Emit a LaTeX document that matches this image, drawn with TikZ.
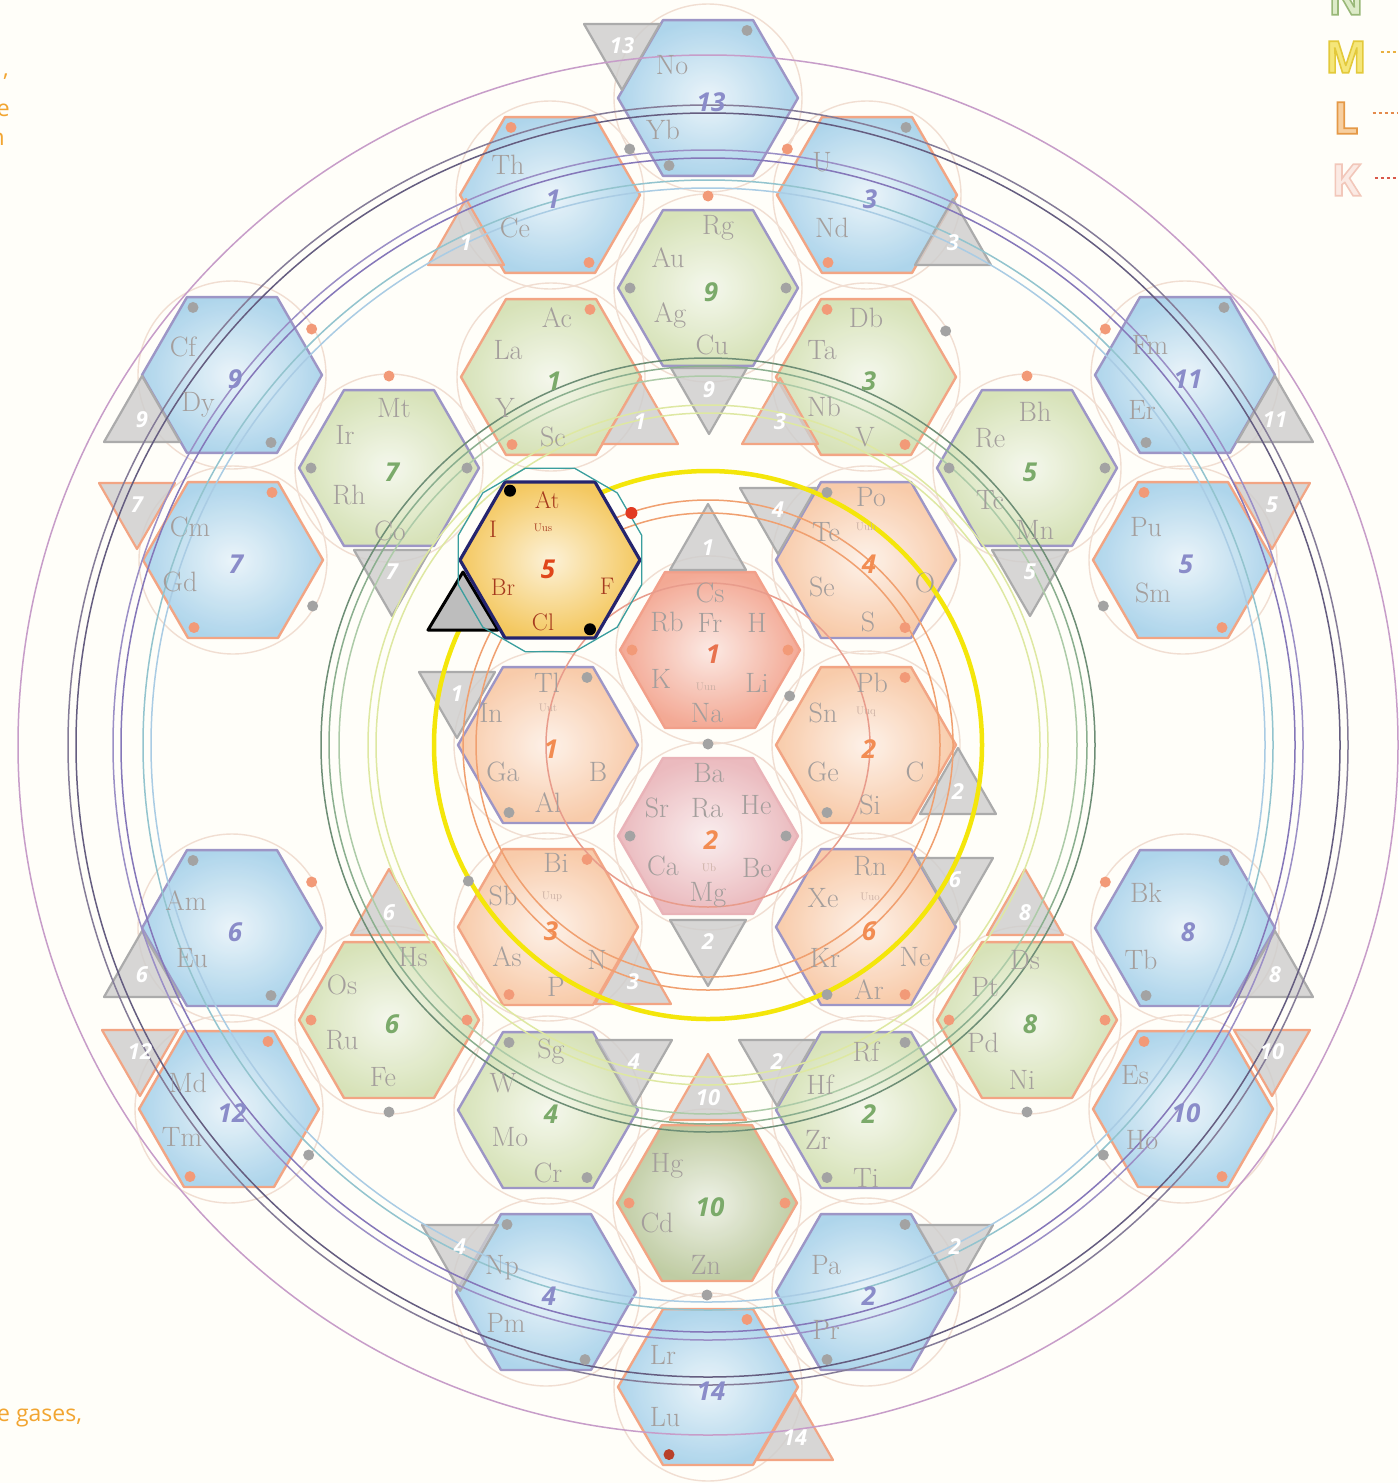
\documentclass[tikz,border=0pt]{standalone}
\usepackage{fontspec}
\newfontfamily\numfont{Open Sans}
\usetikzlibrary{calc}
\definecolor{bgcream}{HTML}{FFFEF9}
\definecolor{fblue}{HTML}{A6D1EA}
\definecolor{dgreen}{HTML}{D3E0B2}
\definecolor{dolive}{HTML}{B9C79A}
\definecolor{ppeach}{HTML}{F8C6A2}
\definecolor{sred}{HTML}{F2A08A}
\definecolor{spink}{HTML}{E9B3B8}
\definecolor{hgold}{HTML}{F4C860}
\definecolor{edgeor}{HTML}{F2A584}
\definecolor{edgepu}{HTML}{9D96C6}
\definecolor{navy}{HTML}{25246E}
\definecolor{trigrey}{HTML}{CDCDCD}
\definecolor{trigreyd}{HTML}{ABABAB}
\definecolor{trihl}{HTML}{BDBDBD}
\definecolor{numblue}{HTML}{8A8CC9}
\definecolor{numgreen}{HTML}{7BAA6A}
\definecolor{numorange}{HTML}{F28C52}
\definecolor{numred}{HTML}{E8724E}
\definecolor{numhl}{HTML}{E0461A}
\definecolor{halored}{HTML}{A63A1E}
\definecolor{elgrey}{HTML}{A49E9C}
\definecolor{smallgrey}{HTML}{C9AEA2}
\definecolor{halobeige}{HTML}{F1DED2}
\definecolor{tealring}{HTML}{3A9E9E}
\definecolor{dotgrey}{HTML}{A3A3A3}
\definecolor{dotor}{HTML}{F29A78}
\definecolor{dotred}{HTML}{E23A22}
\definecolor{dotdark}{HTML}{B8402A}
\definecolor{txtor}{HTML}{F2A531}
\definecolor{legNi}{HTML}{DDEBC8}
\definecolor{legMi}{HTML}{F5E67A}
\definecolor{legLi}{HTML}{F7CFA0}
\definecolor{legKi}{HTML}{FBEAE4}
\definecolor{legMd}{HTML}{E9B040}
\definecolor{legLd}{HTML}{E48A4C}
\definecolor{legKd}{HTML}{D9584A}
\definecolor{shK}{HTML}{E89C8C}
\definecolor{shL}{HTML}{F0A070}
\definecolor{shM}{HTML}{F4E60A}
\definecolor{shMl}{HTML}{DEE8A2}
\definecolor{shNa}{HTML}{6E8E76}
\definecolor{shNb}{HTML}{8BAF8F}
\definecolor{shNc}{HTML}{ADCBA8}
\definecolor{shOa}{HTML}{AACCE4}
\definecolor{shOb}{HTML}{93C4CE}
\definecolor{shPa}{HTML}{8577B9}
\definecolor{shPb}{HTML}{9B8FC6}
\definecolor{shQa}{HTML}{655D80}
\definecolor{shQb}{HTML}{857C98}
\definecolor{shR}{HTML}{C79DC9}
% hollow legend letters: fill and stroke the glyph, stroke colour given as r g b
\newcommand\hollow[2]{\special{pdf:literal direct #1 RG 2 Tr 1.6 w}#2\special{pdf:literal direct 0 Tr}}
\pgfdeclarelayer{bg}
\pgfdeclarelayer{fg}
\pgfsetlayers{bg,main,fg}
\tikzset{
  hexcell/.style={line width=2.4pt, line join=round, fill opacity=.9},
  halo/.style={draw=halobeige, line width=1.4pt},
  shell/.style={line width=1.5pt},
  tri/.style={fill=trigrey, fill opacity=.8, line width=2.2pt, line join=round},
  trinum/.style={text=white, font=\numfont\bfseries\itshape\fontsize{22}{24}\selectfont, inner sep=0pt},
  elem/.style={text=elgrey, font=\fontsize{28}{30}\selectfont, inner sep=0pt},
  elsmall/.style={text=smallgrey, font=\fontsize{11}{12}\selectfont, inner sep=0pt},
  cellnum/.style={font=\numfont\bfseries\itshape\fontsize{26}{28}\selectfont, inner sep=0pt},
  halel/.style={text=halored, font=\fontsize{24}{26}\selectfont, inner sep=0pt},
  legletter/.style={font=\numfont\bfseries\fontsize{44}{46}\selectfont, inner sep=0pt},
  legdots/.style={line width=2pt, dash pattern=on 3pt off 3pt},
  sidetext/.style={text=txtor, font=\numfont\fontsize{23}{25}\selectfont, inner sep=0pt},
}

\begin{document}
\begin{tikzpicture}[x=1pt, y=-1pt]
  \useasboundingbox (0,0) rectangle (1398,1483);
  \begin{pgfonlayer}{bg}
    \fill[bgcream] (0,0) rectangle (1398,1483);
  \end{pgfonlayer}
  \coordinate (ctr) at (708,745);

  % cells: name/x/y/fill/edge/number colour/number
  \foreach \nm/\x/\y/\fc/\bd/\nc/\nr in {
      f13/708/98/fblue/edgepu/numblue/13, f1/550/195/fblue/edgeor/numblue/1, f3/867/195/fblue/edgeor/numblue/3,
      f9/232/375/fblue/edgepu/numblue/9, f11/1185/375/fblue/edgepu/numblue/11,
      f7/233/560/fblue/edgeor/numblue/7, f5/1183/560/fblue/edgeor/numblue/5,
      f6/232/928/fblue/edgepu/numblue/6, f8/1185/928/fblue/edgepu/numblue/8,
      f12/229/1109/fblue/edgeor/numblue/12, f10/1183/1109/fblue/edgeor/numblue/10,
      f4/546/1292/fblue/edgepu/numblue/4, f2/866/1292/fblue/edgepu/numblue/2, f14/708/1387/fblue/edgeor/numblue/14,
      d9/708/288/dgreen/edgepu/numgreen/9, d1/551/377/dgreen/edgeor/numgreen/1, d3/866/377/dgreen/edgeor/numgreen/3,
      d7/389/468/dgreen/edgepu/numgreen/7, d5/1027/468/dgreen/edgepu/numgreen/5,
      d6/389/1020/dgreen/edgeor/numgreen/6, d8/1027/1020/dgreen/edgeor/numgreen/8,
      d4/548/1110/dgreen/edgepu/numgreen/4, d2/866/1110/dgreen/edgepu/numgreen/2, d10/707/1203/dolive/edgeor/numgreen/10,
      p1/548/745/ppeach/edgepu/numorange/1, p2/866/745/ppeach/edgeor/numorange/2, p3/548/927/ppeach/edgeor/numorange/3,
      p4/866/560/ppeach/edgepu/numorange/4, p6/866/927/ppeach/edgepu/numorange/6,
      s1/710/650/sred/sred/numred/1, s2/708/836/spink/spink/numorange/2} {
    \coordinate (\nm) at (\x,\y);
    \begin{pgfonlayer}{bg}
      \draw[halo] (\nm) circle (94pt);
    \end{pgfonlayer}
    \draw[hexcell, draw=\bd, inner color=\fc!25!white, outer color=\fc]
      (\x,\y) ++(90,0) -- ++(120:90) -- ++(180:90) -- ++(240:90) -- ++(300:90) -- ++(0:90) -- cycle;
    \begin{pgfonlayer}{fg}
      \node[cellnum, text=\nc] (\nm-n) at (\x+3,\y+4) {\nr};
    \end{pgfonlayer}
  }

  % triangles: name/x/y/apex/base/label/edge
  \foreach \tn/\x/\y/\ay/\by/\lab/\bd in {
      ti1/708/548/-44/22/1/trigreyd, ti2/708/942/44/-22/2/trigreyd, ti1b/457/694/44/-22/1/trigreyd,
      ti2b/958/792/-44/22/2/trigreyd, ti3/633/982/-44/22/3/edgeor, ti4/778/510/44/-22/4/trigreyd,
      ti6/955/880/44/-22/6/trigreyd,
      tm9/709/390/44/-22/9/trigreyd, tm1/640/422/-44/22/1/edgeor, tm3/780/422/-44/22/3/edgeor,
      tm7/392/572/44/-22/7/trigreyd, tm5/1030/572/44/-22/5/trigreyd, tm6/389/913/-44/22/6/edgeor,
      tm8/1025/913/-44/22/8/edgeor, tm4/634/1062/44/-22/4/trigreyd, tm2/777/1062/44/-22/2/trigreyd,
      tm10/708/1098/-44/22/10/edgeor,
      to13/622/46/44/-22/13/trigreyd, to1/466/243/-44/22/1/edgeor, to3/953/243/-44/22/3/trigreyd,
      to9/142/420/-44/22/9/trigreyd, to11/1275/420/-44/22/11/trigreyd, to7/137/505/44/-22/7/edgeor,
      to5/1272/505/44/-22/5/edgeor, to6/142/975/-44/22/6/trigreyd, to8/1275/975/-44/22/8/trigreyd,
      to12/140/1052/44/-22/12/edgeor, to10/1272/1052/44/-22/10/edgeor, to4/460/1247/44/-22/4/trigreyd,
      to2/955/1247/44/-22/2/trigreyd, to14/795/1438/-44/22/14/edgeor} {
    \draw[tri, draw=\bd] (\x,\y) +(0,\ay) -- +(-38,\by) -- +(38,\by) -- cycle;
    \begin{pgfonlayer}{fg}
      \node[trinum] (\tn) at (\x,\y) {\lab};
    \end{pgfonlayer}
  }

  % shells
  \foreach \rad/\col/\w in {162/shK/1.5, 232/shL/1.5, 245/shL/1.5, 274/shM/4.5, 332/shMl/1.5, 340/shMl/1.5,
      369/shNc/1.5, 379/shNb/1.5, 387/shNa/1.5, 557/shOa/1.5, 565/shOb/1.5, 587/shPa/1.5, 595/shPb/1.5,
      632/shQa/1.5, 640/shQb/1.5, 690/shR/1.5}
    \draw[shell, draw=\col, line width=\w pt] (ctr) circle (\rad pt);

  \begin{pgfonlayer}{fg}
    % dots
    \foreach \nm/\a/\rr/\col in {
        f13/300/78/dotgrey, f13/120/78/dotgrey, f1/240/78/dotor, f1/60/78/dotor, f1/330/92/dotgrey,
        f3/120/78/dotor, f3/300/78/dotgrey, f3/210/92/dotor, d9/0/78/dotgrey, d9/180/78/dotgrey, d9/270/92/dotor,
        d1/300/78/dotor, d1/120/78/dotor, d3/240/78/dotor, d3/330/92/dotgrey, d3/60/78/dotor,
        d7/0/78/dotgrey, d7/180/78/dotgrey, d7/270/92/dotor, d5/0/78/dotgrey, d5/180/78/dotgrey, d5/270/92/dotor,
        f9/240/78/dotgrey, f9/60/78/dotgrey, f9/330/92/dotor, f11/300/78/dotgrey, f11/120/78/dotgrey, f11/210/92/dotor,
        f7/300/78/dotor, f7/120/78/dotor, f7/30/92/dotgrey, f5/240/78/dotor, f5/60/78/dotor, f5/150/92/dotgrey,
        s1/0/78/dotor, s1/180/78/dotor, s1/30/92/dotgrey, s2/0/78/dotgrey, s2/180/78/dotgrey, s2/270/92/dotgrey,
        p1/300/78/dotgrey, p1/120/78/dotgrey, p2/300/78/dotor, p2/120/78/dotgrey, p4/240/78/dotgrey, p4/60/78/dotor,
        p3/300/78/dotor, p3/120/78/dotor, p3/210/92/dotgrey, p6/120/78/dotgrey, p6/60/78/dotor,
        f6/240/78/dotgrey, f6/60/78/dotgrey, f6/330/92/dotor, f8/300/78/dotgrey, f8/120/78/dotgrey, f8/210/92/dotor,
        d6/180/78/dotor, d6/0/78/dotor, d6/90/92/dotgrey, d8/180/78/dotor, d8/0/78/dotor, d8/90/92/dotgrey,
        f12/300/78/dotor, f12/120/78/dotor, f12/30/92/dotgrey, f10/240/78/dotor, f10/60/78/dotor, f10/150/92/dotgrey,
        d4/240/78/dotgrey, d4/60/78/dotgrey, d2/300/78/dotgrey, d2/120/78/dotgrey,
        d10/0/78/dotor, d10/180/78/dotor, d10/90/92/dotgrey, f4/240/78/dotgrey, f4/60/78/dotgrey,
        f2/300/78/dotgrey, f2/120/78/dotgrey, f14/300/78/dotor, f14/120/78/dotdark}
      \fill[fill=\col] ($(\nm)+(\a:\rr)$) circle (5.5pt);

    % element symbols
    \foreach \el/\x/\y in {
        No/672/65, Yb/663/130, Th/508/165, Ce/515/228, U/822/162, Nd/832/228, Cf/183/347, Dy/198/405,
        Fm/1150/345, Er/1142/410, Cm/190/527, Gd/180/582, Pu/1146/527, Sm/1153/593, Am/186/901, Eu/192/958,
        Bk/1146/893, Tb/1141/960, Md/188/1083, Tm/182/1137, Es/1135/1075, Ho/1142/1140, Np/502/1268, Pm/506/1323,
        Pa/826/1265, Pr/826/1330, Lr/663/1355, Lu/665/1417,
        Rg/718/228, Au/668/258, Ag/670/315, Cu/712/345, Ac/557/318, La/508/350, Y/505/408, Sc/553/437,
        Db/866/318, Ta/822/350, Nb/824/407, V/865/437, Mt/394/408, Ir/345/435, Rh/349/495, Co/390/531,
        Bh/1035/412, Re/990/438, Tc/990/500, Mn/1035/530, Hs/413/957, Os/342/985, Ru/342/1040, Fe/383/1077,
        Ds/1025/960, Pt/985/987, Pd/983/1043, Ni/1022/1080, Sg/551/1052, W/503/1083, Mo/510/1137, Cr/548/1173,
        Rf/866/1052, Hf/820/1085, Zr/818/1140, Ti/866/1178, Hg/667/1166, Cd/657/1223, Zn/706/1265,
        Tl/547/683, In/491/713, Ga/503/772, B/598/772, Al/548/803, Pb/872/683, Sn/823/713, Ge/823/772,
        C/915/772, Si/870/805, Po/871/497, Te/826/532, Se/822/587, O/925/583, S/868/622,
        Bi/556/863, Sb/503/896, As/507/957, N/597/960, P/556/987, Rn/870/866, Xe/823/898, Kr/825/958,
        Ne/915/957, Ar/869/990,
        Cs/710/593, Rb/667/622, Fr/710/623, H/757/623, K/661/679, Li/757/683, Na/707/713,
        Ba/709/773, Sr/657/808, Ra/707/808, He/756/805, Ca/663/866, Be/757/868, Mg/708/895}
      \node[elem] (\el) at (\x,\y) {\el};
    \foreach \el/\x/\y in {Uun/706/687, Ub/709/868, Uut/548/708, Uuq/866/712, Uuh/866/527, Uup/552/897, Uuo/870/897}
      \node[elsmall] (\el) at (\x,\y) {\el};

    % halogen cell, picked out
    \coordinate (p5) at (550,560);
    \draw[line width=3pt, line join=round, draw=black, fill=trihl] (463,572) -- (428,630) -- (498,630) -- cycle;
    \draw[line width=3.2pt, line join=round, draw=navy, inner color=hgold!25!white, outer color=hgold]
      (p5) ++(90,0) -- ++(120:90) -- ++(180:90) -- ++(240:90) -- ++(300:90) -- ++(0:90) -- cycle;
    \draw[tealring, line width=1.3pt] ($(p5)+(15:95)$)
      \foreach \k in {45,75,...,345} { -- ($(p5)+(\k:95)$) } -- cycle;
    \fill[black] ($(p5)+(240:80)$) circle (6pt);
    \fill[black] ($(p5)+(60:80)$) circle (6pt);
    \fill[dotred] ($(p5)+(330:94)$) circle (6pt);
    \foreach \el/\x/\y in {At/547/500, I/493/529, Br/503/587, F/607/586, Cl/543/622}
      \node[halel] (\el) at (\x,\y) {\el};
    \node[elsmall, text=halored] (Uus) at (543,528) {Uus};
    \node[cellnum, text=numhl] (p5-n) at (548,569) {5};

    % legend
    \node[legletter, text=legNi] (legN) at (1346,-1) {\hollow{0.60 0.72 0.47}{N}};
    \node[legletter, text=legMi] (legM) at (1346,57) {\hollow{0.89 0.79 0.23}{M}};
    \node[legletter, text=legLi] (legL) at (1346,118) {\hollow{0.90 0.60 0.28}{L}};
    \node[legletter, text=legKi] (legK) at (1346,180) {\hollow{0.95 0.78 0.73}{K}};
    \coordinate (legM-end) at (1398,52);
    \coordinate (legL-end) at (1398,113);
    \coordinate (legK-end) at (1398,178);
    \draw[legdots, draw=legMd] ([xshift=14pt]legM.east |- legM-end) -- (legM-end);
    \draw[legdots, draw=legLd] ([xshift=14pt]legL.east |- legL-end) -- (legL-end);
    \draw[legdots, draw=legKd] ([xshift=14pt]legK.east |- legK-end) -- (legK-end);

    % cut-off text at the left edge
    \node[sidetext, anchor=base east] (sideA) at (9,76) {,};
    \node[sidetext, anchor=base east] (sideB) at (10,116) {e};
    \node[sidetext, anchor=base east] (sideC) at (5,145) {n};
    \node[sidetext, anchor=base west] (sideD) at (-3,1421) {e gases,};
  \end{pgfonlayer}
\end{tikzpicture}
\end{document}
